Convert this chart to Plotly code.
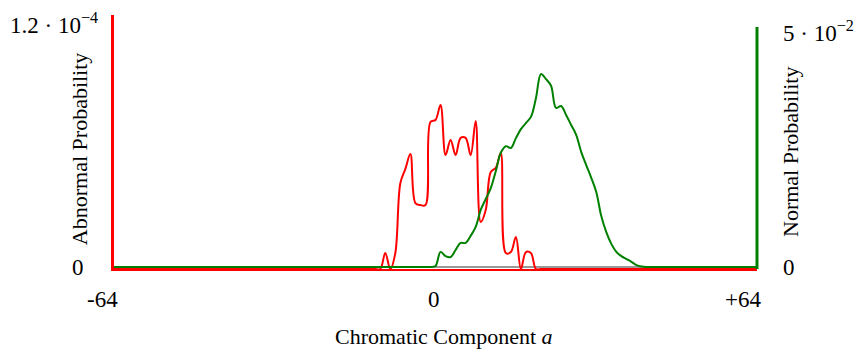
import plotly.graph_objects as go

# ---- data ----
a_vals = list(range(-64, 65))

# Abnormal probability (left axis), nonzero part from a=-12..20
abn_a = list(range(-12, 21))
abn_v = [0, 0, 7.8e-6, 0, 7.8e-6, 4.2e-5, 4.9e-5, 5.63e-5, 3.23e-5, 3.13e-5, 3.13e-5,
         7.2e-5, 7.3e-5, 8.03e-5, 5.58e-5, 6.32e-5, 5.58e-5, 6.42e-5, 6.42e-5, 5.58e-5,
         7.25e-5, 2.3e-5, 2.89e-5, 4.75e-5, 4.95e-5, 5.68e-5, 7.8e-6, 8.3e-6, 1.57e-5,
         0, 8.3e-6, 7.8e-6, 0]

# Normal probability (right axis), nonzero part from a=0..41
nor_a = list(range(0, 42))
nor_v = [0.0002, 0.0032, 0.0023, 0.0021, 0.0036, 0.0051, 0.0051, 0.0066, 0.0085, 0.0121,
         0.0144, 0.0167, 0.0203, 0.0242, 0.0256, 0.0252, 0.0273, 0.0292, 0.0305, 0.0318,
         0.0358, 0.0409, 0.0398, 0.0384, 0.0337, 0.0341, 0.0322, 0.0301, 0.0280, 0.0244,
         0.0216, 0.0189, 0.0159, 0.0108, 0.0074, 0.0049, 0.0032, 0.0023, 0.0017, 0.0011,
         0.0004, 0.0001]

x_ticks = [-64, 0, 64]
x_ticktext = ["-64", "0", "+64"]
left_ticks = [0, 1.2e-4]
left_ticktext = ["0", "1.2 · 10<sup>−4</sup>"]
right_ticks = [0, 5e-2]
right_ticktext = ["0", "5 · 10<sup>−2</sup>"]

abn_map = dict(zip(abn_a, abn_v))
nor_map = dict(zip(nor_a, nor_v))
abnormal = [abn_map.get(a, 0.0) for a in a_vals]
normal = [nor_map.get(a, 0.0) for a in a_vals]

FONT = "Liberation Serif, Times New Roman, serif"
RED = "#ff0000"
GREEN = "#008000"

fig = go.Figure()
fig.add_trace(go.Scatter(x=a_vals, y=normal, yaxis="y2", mode="lines",
                         line=dict(color=GREEN, width=2, shape="spline", smoothing=1),
                         showlegend=False, hoverinfo="skip"))
fig.add_trace(go.Scatter(x=a_vals, y=abnormal, yaxis="y", mode="lines",
                         line=dict(color=RED, width=2, shape="spline", smoothing=1),
                         showlegend=False, hoverinfo="skip"))

fig.update_layout(
    width=854, height=356,
    margin=dict(l=114, r=97, t=15, b=87),
    paper_bgcolor="white", plot_bgcolor="white",
    font=dict(family=FONT, color="black", size=23),
    xaxis=dict(range=[-64, 64], showgrid=False, zeroline=False, showticklabels=False,
               showline=True, linecolor=RED, linewidth=2, ticks=""),
    yaxis=dict(range=[0, 1.244e-4], showgrid=False, zeroline=False, showticklabels=False,
               showline=True, linecolor=RED, linewidth=3, ticks=""),
    yaxis2=dict(range=[-0.000424, 0.05339], overlaying="y", side="right", showgrid=False,
                zeroline=True, zerolinecolor="#999999", zerolinewidth=2,
                showticklabels=False, showline=False, ticks=""),
)

# right axis line (green), spans from 0 up to the top tick region
fig.add_shape(type="line", xref="paper", yref="paper", x0=1, x1=1, y0=0, y1=0.9528,
              line=dict(color=GREEN, width=3))

ann = []
# x tick labels
for v, t in zip(x_ticks, x_ticktext):
    ann.append(dict(x=v, xref="x", y=-0.122, yref="paper", text=t, showarrow=False,
                    xanchor="right", yanchor="middle", xshift=6, font=dict(size=23)))
# left y tick labels
ann.append(dict(x=0, xref="paper", y=left_ticks[0], yref="y", text=left_ticktext[0],
                showarrow=False, xanchor="center", yanchor="middle", xshift=-36, yshift=2,
                font=dict(size=23)))
ann.append(dict(x=0, xref="paper", y=left_ticks[1], yref="y", text=left_ticktext[1],
                showarrow=False, xanchor="right", yanchor="middle", xshift=-14,
                font=dict(size=23)))
# right y tick labels
for v, t in zip(right_ticks, right_ticktext):
    ann.append(dict(x=1, xref="paper", y=v, yref="y2", text=t, showarrow=False,
                    xanchor="left", yanchor="middle", xshift=24, font=dict(size=23)))
# axis titles
ann.append(dict(x=-0.0544, xref="paper", y=0.472, yref="paper", text="Abnormal Probability",
                showarrow=False, textangle=-90, xanchor="center", yanchor="middle",
                font=dict(size=22)))
ann.append(dict(x=1.0513, xref="paper", y=0.4606, yref="paper", text="Normal Probability",
                showarrow=False, textangle=-90, xanchor="center", yanchor="middle",
                font=dict(size=22)))
ann.append(dict(x=0.513, xref="paper", y=-0.2677, yref="paper",
                text="Chromatic Component <i>a</i>", showarrow=False,
                xanchor="center", yanchor="middle", font=dict(size=22)))
fig.update_layout(annotations=ann)

fig.write_html("out.html")
